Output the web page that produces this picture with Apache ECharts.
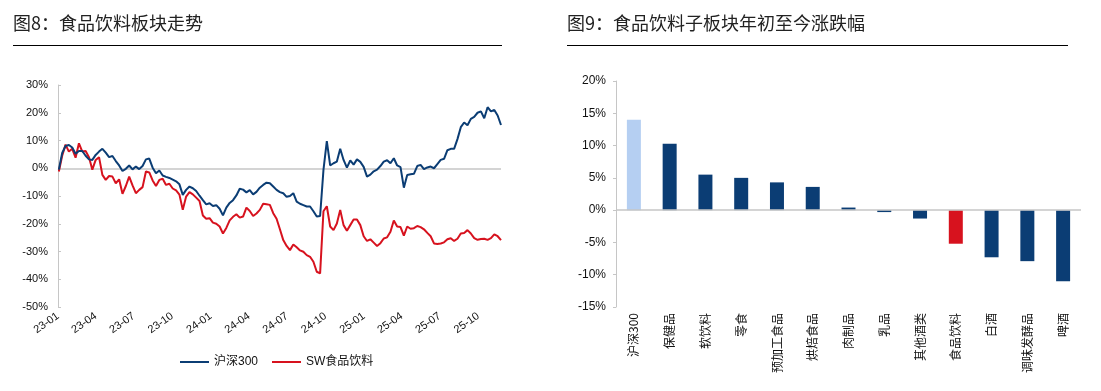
<!DOCTYPE html>
<html><head><meta charset="utf-8">
<script src="https://cdn.jsdelivr.net/npm/echarts@6/dist/echarts.min.js"></script>
<style>html,body{margin:0;padding:0;background:#fff;}#c{width:1101px;height:391px;}</style>
</head><body><div id="c"></div>
<script>
// ---- Figure 8 data: cumulative change since 2023-01 (%) ----
const dates = [
'2023-01-03','2023-01-11','2023-01-19','2023-01-27','2023-02-04','2023-02-12','2023-02-20','2023-02-28','2023-03-08','2023-03-16',
'2023-03-24','2023-04-01','2023-04-09','2023-04-17','2023-04-25','2023-05-03','2023-05-11','2023-05-19','2023-05-27','2023-06-04',
'2023-06-12','2023-06-20','2023-06-28','2023-07-06','2023-07-14','2023-07-22','2023-07-30','2023-08-07','2023-08-15','2023-08-23',
'2023-08-31','2023-09-08','2023-09-16','2023-09-24','2023-10-02','2023-10-10','2023-10-18','2023-10-26','2023-11-03','2023-11-11',
'2023-11-19','2023-11-27','2023-12-05','2023-12-13','2023-12-21','2023-12-29','2024-01-06','2024-01-14','2024-01-22','2024-01-30',
'2024-02-07','2024-02-15','2024-02-23','2024-03-02','2024-03-10','2024-03-18','2024-03-26','2024-04-03','2024-04-11','2024-04-19',
'2024-04-27','2024-05-05','2024-05-13','2024-05-21','2024-05-29','2024-06-06','2024-06-14','2024-06-22','2024-06-30','2024-07-08',
'2024-07-16','2024-07-24','2024-08-01','2024-08-09','2024-08-17','2024-08-25','2024-09-02','2024-09-10','2024-09-18','2024-09-26',
'2024-10-04','2024-10-12','2024-10-20','2024-10-28','2024-11-05','2024-11-13','2024-11-21','2024-11-29','2024-12-07','2024-12-15',
'2024-12-23','2024-12-31','2025-01-08','2025-01-16','2025-01-24','2025-02-01','2025-02-09','2025-02-17','2025-02-25','2025-03-05',
'2025-03-13','2025-03-21','2025-03-29','2025-04-06','2025-04-14','2025-04-22','2025-04-30','2025-05-08','2025-05-16','2025-05-24',
'2025-06-01','2025-06-09','2025-06-17','2025-06-25','2025-07-03','2025-07-11','2025-07-19','2025-07-27','2025-08-04','2025-08-12',
'2025-08-20','2025-08-28','2025-09-05','2025-09-13','2025-09-21','2025-09-29','2025-10-07','2025-10-15','2025-10-23','2025-10-31',
'2025-11-08','2025-11-16','2025-11-24'
];
const hs300 = [
-0.5,5.5,8.0,8.4,7.5,5.2,6.2,6.2,4.5,3.2,
3.0,4.8,6.0,7.0,5.6,4.0,4.4,2.6,1.0,-1.0,
-0.2,1.0,-0.4,0.6,-0.3,0.8,3.2,3.5,0.2,-1.8,
-0.8,-2.6,-3.1,-3.5,-4.1,-4.7,-5.8,-9.6,-7.8,-6.6,
-7.2,-8.2,-9.9,-11.5,-13.0,-12.6,-13.6,-13.3,-14.6,-17.0,
-14.2,-12.5,-11.5,-9.8,-7.4,-7.7,-8.7,-7.9,-9.4,-8.5,
-7.0,-6.0,-5.2,-5.4,-6.6,-7.8,-8.6,-9.0,-10.3,-10.0,
-9.0,-12.0,-12.8,-13.3,-13.8,-13.8,-15.5,-17.4,-17.2,-0.6,
9.8,1.0,1.8,2.4,7.0,3.0,0.2,2.8,1.3,3.2,
2.3,0.5,-3.0,-2.3,-1.1,-0.5,0.8,2.4,2.9,1.8,
3.6,1.0,0.4,-7.0,-2.4,-2.2,-2.0,0.8,1.2,-0.3,
0.3,0.6,0.0,1.5,3.0,3.4,6.5,7.0,7.0,10.5,
14.8,16.5,15.5,17.8,18.5,20.0,20.5,18.0,22.0,20.5,
21.0,19.0,15.6
];
const swFood = [
-1.2,4.5,8.5,6.0,7.0,3.8,9.0,6.0,6.2,4.0,
-0.5,3.0,4.0,-2.4,-4.2,-2.8,-3.0,-5.4,-4.0,-9.2,
-6.4,-3.0,-6.2,-9.0,-7.8,-6.8,-1.2,-1.5,-4.4,-6.4,
-4.2,-3.8,-6.0,-5.6,-7.3,-8.0,-9.5,-15.0,-10.2,-8.6,
-9.4,-10.6,-11.8,-17.0,-18.2,-18.0,-19.6,-20.0,-21.0,-23.5,
-21.5,-18.8,-17.5,-16.6,-17.8,-17.4,-14.2,-15.4,-17.2,-16.3,
-15.0,-12.8,-13.0,-13.2,-16.2,-18.2,-22.0,-25.9,-28.0,-29.5,
-27.5,-28.5,-29.6,-30.1,-31.3,-31.9,-33.7,-37.3,-37.9,-15.5,
-13.7,-21.0,-22.3,-19.9,-15.0,-20.5,-22.5,-20.5,-18.5,-18.5,
-20.5,-24.5,-26.2,-25.6,-26.8,-28.0,-27.0,-25.3,-24.9,-22.9,
-18.8,-21.0,-21.2,-24.3,-21.0,-21.8,-21.6,-20.8,-21.2,-22.0,
-23.3,-24.5,-27.1,-27.3,-27.1,-26.7,-25.6,-25.2,-26.2,-25.4,
-23.5,-23.3,-22.3,-23.5,-25.2,-25.8,-25.5,-25.4,-25.8,-25.2,
-23.8,-24.5,-25.9
];
const quarterTicks = ['2023-01-01','2023-04-01','2023-07-01','2023-10-01','2024-01-01','2024-04-01','2024-07-01','2024-10-01','2025-01-01','2025-04-01','2025-07-01','2025-10-01'];
const axisStart = '2023-01-01';
const axisEnd = '2025-11-24';
const seriesNames = ['沪深300','SW食品饮料'];

// ---- Figure 9 data: YTD change of sub-sectors (%) ----
const subCategories = ['沪深300','保健品','软饮料','零食','预加工食品','烘焙食品','肉制品','乳品','其他酒类','食品饮料','白酒','调味发酵品','啤酒'];
const ytdChange = [14.0,10.3,5.5,5.0,4.3,3.6,0.4,-0.3,-1.3,-5.2,-7.3,-7.9,-11.0];

const titles = ['图8：食品饮料板块走势','图9：食品饮料子板块年初至今涨跌幅'];

// ---- styles ----
const NAVY = '#0b3d74', RED = '#d7121e', LIGHT = '#b5cff2', GRAYAX = '#c6c6c6';
const FONT = '"Liberation Sans", Arial, "Noto Sans CJK SC", sans-serif';
const CJK = '"Noto Sans CJK SC", "Liberation Sans", sans-serif';
function ts(s){const p=s.split('-');return Date.UTC(+p[0],+p[1]-1,+p[2]);}
const pad = n => (n<10?'0':'')+n;

const chart = echarts.init(document.getElementById('c'), null, {renderer:'canvas'});
chart.setOption({
  animation:false,
  backgroundColor:'#fff',
  textStyle:{fontFamily:FONT},
  graphic:[
    {type:'text', left:13, top:14, style:{text:titles[0], font:'18px '+CJK, fill:'#222'}},
    {type:'text', left:567, top:14, style:{text:titles[1], font:'18px '+CJK, fill:'#222'}},
    {type:'line', shape:{x1:13,y1:45.5,x2:502,y2:45.5}, style:{stroke:'#000',lineWidth:1}},
    {type:'line', shape:{x1:567,y1:45.5,x2:1068,y2:45.5}, style:{stroke:'#000',lineWidth:1}}
  ],
  legend:{
    left:175, top:351, itemWidth:29, itemHeight:2, itemGap:14, icon:'rect',
    textStyle:{fontSize:12, color:'#111', fontFamily:FONT},
    data:seriesNames
  },
  grid:[
    {left:58, right:600, top:85, bottom:84},
    {left:616, right:20, top:81, bottom:84}
  ],
  xAxis:[
    {type:'value', gridIndex:0, min:ts(axisStart), max:ts(axisEnd), scale:true,
     axisLine:{show:false}, axisTick:{show:false}, splitLine:{show:false},
     axisLabel:{customValues:quarterTicks.map(ts), rotate:35, fontSize:11, color:'#111', margin:8,
       formatter:v=>{const d=new Date(v);return String(d.getUTCFullYear()).slice(2)+'-'+pad(d.getUTCMonth()+1);}}},
    {type:'category', gridIndex:1, data:subCategories,
     axisLine:{show:false}, axisTick:{show:false},
     axisLabel:{rotate:90, interval:0, fontSize:12, color:'#111', margin:6, fontFamily:CJK}}
  ],
  yAxis:[
    {type:'value', gridIndex:0, min:-50, max:30, interval:10,
     axisLine:{show:true, lineStyle:{color:GRAYAX}}, axisTick:{show:true, inside:true, length:3, lineStyle:{color:GRAYAX}},
     splitLine:{show:false}, axisLabel:{formatter:'{value}%', fontSize:11, color:'#111', margin:10}},
    {type:'value', gridIndex:1, min:-15, max:20, interval:5,
     axisLine:{show:true, lineStyle:{color:GRAYAX}}, axisTick:{show:true, length:3, lineStyle:{color:GRAYAX}},
     splitLine:{show:false}, axisLabel:{formatter:'{value}%', fontSize:12, color:'#111', margin:10}}
  ],
  series:[
    {type:'line', name:seriesNames[0], xAxisIndex:0, yAxisIndex:0, showSymbol:false, symbol:'none', z:3,
     lineStyle:{color:NAVY, width:2}, itemStyle:{color:NAVY},
     data:dates.map((d,i)=>[ts(d),hs300[i]]),
     markLine:{silent:true, symbol:['none','none'], label:{show:false}, z:1, lineStyle:{color:GRAYAX, width:1.5, type:'solid'}, data:[{yAxis:0}]}},
    {type:'line', name:seriesNames[1], xAxisIndex:0, yAxisIndex:0, showSymbol:false, symbol:'none', z:2,
     lineStyle:{color:RED, width:2}, itemStyle:{color:RED},
     data:dates.map((d,i)=>[ts(d),swFood[i]])},
    {type:'bar', name:'ytd', xAxisIndex:1, yAxisIndex:1, barWidth:14,
     itemStyle:{color:p=>p.name==='沪深300'?LIGHT:(p.name==='食品饮料'?RED:NAVY)},
     data:ytdChange,
     markLine:{silent:true, symbol:['none','none'], label:{show:false}, lineStyle:{color:GRAYAX, width:1.5, type:'solid'}, data:[{yAxis:0}]}}
  ]
});
</script></body></html>
